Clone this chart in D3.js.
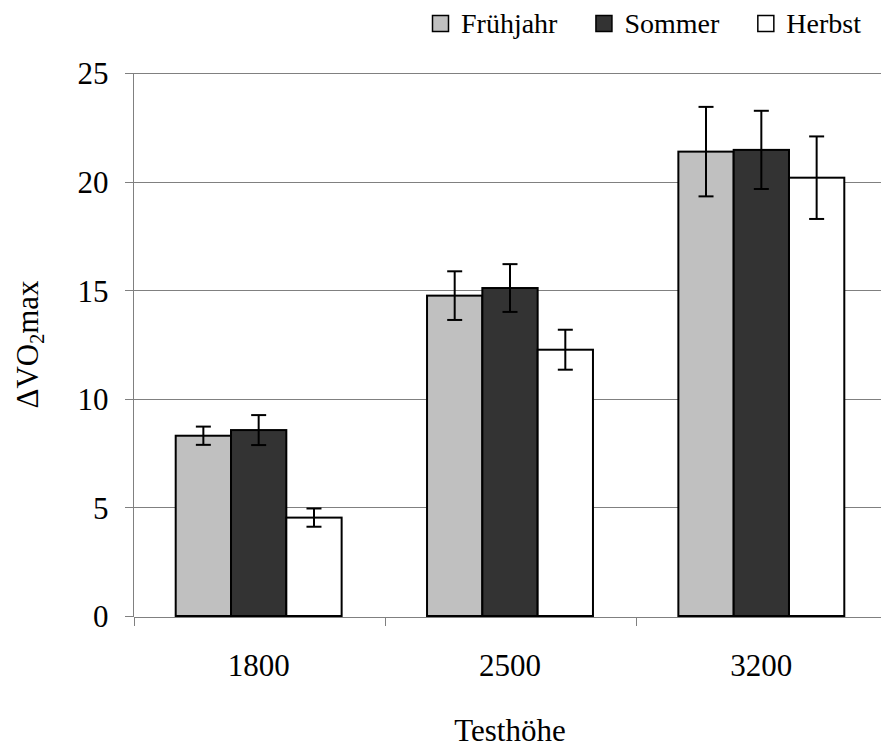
<!DOCTYPE html>
<meta charset="utf-8">
<style>
body{margin:0;background:#fff;}
text{font-family:"Liberation Serif","Times New Roman",serif;fill:#000;}
.grid line{stroke:#808080;stroke-width:1px;shape-rendering:crispEdges;}
.axis path,.axis line{stroke:#808080;stroke-width:1px;shape-rendering:crispEdges;}
.bar{stroke:#000;stroke-width:2px;}
.err{stroke:#000;stroke-width:2px;fill:none;}
</style>
<title>VO2max Testhöhe</title>
<body>
<script src="https://cdnjs.cloudflare.com/ajax/libs/d3/7.8.5/d3.min.js"></script>
<script>

// data
var heights = ["1800", "2500", "3200"];
var seasons = ["Frühjahr", "Sommer", "Herbst"];
var seasonColors = ["#c0c0c0", "#333333", "#ffffff"];
var fruehjahr = [8.30, 14.75, 21.38];
var sommer = [8.56, 15.10, 21.46];
var herbst = [4.53, 12.26, 20.18];
var errFruehjahr = [0.42, 1.12, 2.06];
var errSommer = [0.69, 1.10, 1.80];
var errHerbst = [0.42, 0.92, 1.90];
var yTicks = [0, 5, 10, 15, 20, 25];

var values = [fruehjahr, sommer, herbst];
var errs = [errFruehjahr, errSommer, errHerbst];

var data = [];
for(var i=0;i<heights.length;i++){
    for(var j=0;j<seasons.length;j++){
        data.push({h: heights[i], s: seasons[j], si: j, v: values[j][i], e: errs[j][i]});
    }
}

var W = 881, H = 751;
var pLeft = 133, pRight = 887, pTop = 73, pBottom = 616;

var svg = d3.select("body").append("svg").attr("width", W).attr("height", H);

var y = d3.scaleLinear().domain([0, 25]).range([pBottom, pTop]);
var x0 = d3.scaleBand().domain(heights).range([pLeft, pRight]).padding(0);
var x1 = d3.scaleBand().domain(seasons).range([0, x0.bandwidth()]).paddingInner(0).paddingOuter(0.772);
var color = d3.scaleOrdinal().domain(seasons).range(seasonColors);

// gridlines
svg.append("g").attr("class", "grid")
    .selectAll("line").data(yTicks.filter(d => d > 0)).enter().append("line")
    .attr("x1", pLeft).attr("x2", pRight)
    .attr("y1", d => Math.round(y(d)) + 0.5).attr("y2", d => Math.round(y(d)) + 0.5);

// bars
svg.append("g").selectAll("rect").data(data).enter().append("rect")
    .attr("class", "bar")
    .attr("x", d => x0(d.h) + x1(d.s))
    .attr("y", d => y(d.v))
    .attr("width", x1.bandwidth())
    .attr("height", d => y(0) - y(d.v))
    .attr("fill", d => color(d.s));

// error bars
var cx = d => x0(d.h) + x1(d.s) + x1.bandwidth()/2;
var eg = svg.append("g").selectAll("g").data(data).enter().append("g").attr("class", "err");
eg.append("line")
    .attr("x1", cx).attr("x2", cx)
    .attr("y1", d => y(d.v + d.e)).attr("y2", d => y(d.v - d.e));
eg.append("line")
    .attr("x1", d => cx(d) - 7.5).attr("x2", d => cx(d) + 7.5)
    .attr("y1", d => y(d.v + d.e)).attr("y2", d => y(d.v + d.e));
eg.append("line")
    .attr("x1", d => cx(d) - 7.5).attr("x2", d => cx(d) + 7.5)
    .attr("y1", d => y(d.v - d.e)).attr("y2", d => y(d.v - d.e));

// y axis
var yAxis = svg.append("g").attr("class", "axis")
    .attr("transform", "translate(" + (pLeft + 0.5) + ",0)")
    .call(d3.axisLeft(y).tickValues(yTicks).tickSize(9).tickSizeOuter(0).tickPadding(16));
yAxis.selectAll("text").style("font-size", "31px").attr("dy", "0.35em");
yAxis.select(".domain").attr("d", "M0," + y(0) + "V" + y(25));

// x axis: ticks at the category boundaries
var xb = d3.scaleLinear().domain([0, heights.length]).range([pLeft, pRight]);
var xAxis = svg.append("g").attr("class", "axis")
    .attr("transform", "translate(0," + (Math.round(y(0)) + 0.5) + ")")
    .call(d3.axisBottom(xb).tickValues(d3.range(heights.length + 1)).tickSize(9).tickSizeOuter(0).tickFormat(""));
xAxis.selectAll(".tick line").attr("transform", "translate(0.5,0)");

svg.append("g").selectAll("text").data(heights).enter().append("text")
    .attr("x", d => x0(d) + x0.bandwidth()/2)
    .attr("y", 676)
    .attr("text-anchor", "middle")
    .style("font-size", "31px")
    .text(d => d);

// axis titles
svg.append("text")
    .attr("x", 510).attr("y", 741)
    .attr("text-anchor", "middle")
    .style("font-size", "31px")
    .text("Testhöhe");

var yt = svg.append("text")
    .attr("transform", "translate(38," + ((pTop + pBottom) / 2) + ") rotate(-90)")
    .attr("text-anchor", "middle")
    .style("font-size", "31px");
yt.append("tspan").text("\u0394VO");
yt.append("tspan").attr("dy", 6).style("font-size", "20px").text("2");
yt.append("tspan").attr("dy", -6).text("max");

// legend
var lg = svg.append("g").attr("transform", "translate(432,0)");
var lx = 0;
seasons.forEach(function(s, i){
    var g = lg.append("g").attr("transform", "translate(" + lx + ",0)");
    g.append("rect")
        .attr("x", 0.5).attr("y", 15.5).attr("width", 16).attr("height", 16)
        .attr("fill", color(s)).attr("stroke", "#000").attr("stroke-width", 1.5);
    var t = g.append("text").attr("x", 29).attr("y", 33).style("font-size", "28px").text(s);
    lx += 29 + t.node().getComputedTextLength() + 38;
});

</script>
</body>
</html>
